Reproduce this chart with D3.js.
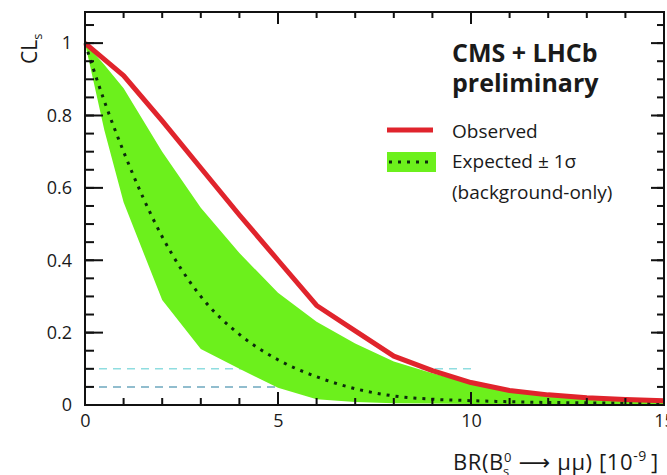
<!DOCTYPE html>
<html>
<head>
<meta charset="utf-8">
<script src="https://cdn.jsdelivr.net/npm/d3@7"></script>
<style>
  body { margin: 0; background: #fff; }
  svg text { font-family: "Open Sans", "DejaVu Sans", sans-serif; fill: #1a1a1a; }
</style>
</head>
<body>
<script>
// CLs scan vs BR(Bs -> mumu)
const brValues  = [0, 0.5, 1, 2, 3, 4, 5, 6, 7, 8, 9, 10, 11, 12, 13, 14, 15];
const observed  = [1.0, 0.955, 0.91, 0.785, 0.655, 0.525, 0.40, 0.275, 0.205, 0.135, 0.095, 0.062, 0.04, 0.028, 0.02, 0.015, 0.012];
const expected  = [1.0, 0.84, 0.70, 0.465, 0.30, 0.195, 0.125, 0.078, 0.045, 0.025, 0.016, 0.012, 0.009, 0.007, 0.006, 0.005, 0.004];
const bandHigh  = [1.0, 0.94, 0.875, 0.70, 0.545, 0.42, 0.31, 0.23, 0.17, 0.12, 0.088, 0.06, 0.036, 0.026, 0.02, 0.016, 0.013];
const bandLow   = [1.0, 0.76, 0.56, 0.29, 0.155, 0.10, 0.048, 0.016, 0.008, 0.005, 0.004, 0.003, 0.003, 0.002, 0.002, 0.002, 0.002];
const clsLevels = [0.1, 0.05];
const xTicks = [0, 5, 10, 15];
const yTicks = [0, 0.2, 0.4, 0.6, 0.8, 1];

const width = 667, height = 475;
const plotL = 85, plotR = 664, plotT = 12, plotB = 405;

const svg = d3.select("body").append("svg")
    .attr("width", width).attr("height", height);

const x = d3.scaleLinear().domain([0, 15]).range([plotL, plotR]);
const y = d3.scaleLinear().domain([0, 1.086]).range([plotB, plotT]);

const rows = brValues.map((b, i) => ({
    b, obs: observed[i], exp: expected[i], hi: bandHigh[i], lo: bandLow[i]
}));

// dashed reference levels
svg.selectAll(".level")
    .data(clsLevels)
    .enter().append("line")
    .attr("class", "level")
    .attr("x1", x(0)).attr("x2", x(10))
    .attr("y1", d => y(d)).attr("y2", d => y(d))
    .attr("stroke", (d, i) => i === 0 ? "#8fdde0" : "#6ea8bf")
    .attr("stroke-width", 1.5)
    .attr("stroke-dasharray", "8,6");

// +-1 sigma band
svg.append("path")
    .datum(rows)
    .attr("fill", "#6cf01c")
    .attr("d", d3.area()
        .x(d => x(d.b))
        .y0(d => y(d.lo))
        .y1(d => y(d.hi)));

// expected
svg.append("path")
    .datum(rows)
    .attr("fill", "none")
    .attr("stroke", "#0c2a0c")
    .attr("stroke-width", 3)
    .attr("stroke-dasharray", "3,6")
    .attr("d", d3.line().curve(d3.curveMonotoneX).x(d => x(d.b)).y(d => y(d.exp)));

// observed
svg.append("path")
    .datum(rows)
    .attr("fill", "none")
    .attr("stroke", "#e0242c")
    .attr("stroke-width", 5)
    .attr("stroke-linejoin", "round")
    .attr("d", d3.line().x(d => x(d.b)).y(d => y(d.obs)));

// frame
svg.append("rect")
    .attr("x", plotL).attr("y", plotT)
    .attr("width", plotR - plotL).attr("height", plotB - plotT)
    .attr("fill", "none").attr("stroke", "#111").attr("stroke-width", 2);

// inward tick marks as small filled rects, placed with the scales
const minorX = d3.range(0, 16, 1);
const minorY = d3.range(0, 1.0501, 0.05);

function xMarks(vals, y0, len) {
    svg.append("g").selectAll("rect")
        .data(vals).enter().append("rect")
        .attr("x", d => x(d) - 1).attr("width", 2)
        .attr("y", len < 0 ? y0 + len : y0).attr("height", Math.abs(len))
        .attr("fill", "#111");
}
function yMarks(vals, x0, len) {
    svg.append("g").selectAll("rect")
        .data(vals).enter().append("rect")
        .attr("y", d => y(d) - 1).attr("height", 2)
        .attr("x", len < 0 ? x0 + len : x0).attr("width", Math.abs(len))
        .attr("fill", "#111");
}
xMarks(minorX, plotB, -7);
xMarks(xTicks, plotB, -13);
xMarks(minorX, plotT, 6);
xMarks(xTicks, plotT, 12);
yMarks(minorY, plotL, 9);
yMarks(yTicks, plotL, 18);
yMarks(minorY, plotR, -7);
yMarks(yTicks, plotR, -13);

// tick labels from d3 axes
function styleAxis(g) {
    g.select(".domain").remove();
    g.selectAll(".tick line").remove();
    g.selectAll(".tick text").style("font-size", "18px");
}
svg.append("g").attr("transform", `translate(0,${plotB})`)
    .call(d3.axisBottom(x).tickValues(xTicks).tickFormat(d3.format("d")).tickSize(0).tickPadding(9))
    .call(styleAxis);
svg.append("g").attr("transform", `translate(${plotL},0)`)
    .call(d3.axisLeft(y).tickValues(yTicks).tickFormat(d3.format("~g")).tickSize(0).tickPadding(13))
    .call(styleAxis);

// y title
const yt = svg.append("text")
    .attr("transform", "translate(37,64) rotate(-90)")
    .style("font-size", "21px");
yt.append("tspan").text("CL");
yt.append("tspan").attr("dy", 5).style("font-size", "13px").text("s");

// x title
const xt = svg.append("text")
    .attr("x", 453).attr("y", 470)
    .style("font-size", "22px")
    .style("letter-spacing", "0.6px");
xt.append("tspan").text("BR(B");
xt.append("tspan").attr("dy", -8).style("font-size", "13px").text("0");
xt.append("tspan").attr("dx", -9).attr("dy", 14).style("font-size", "13px").text("s");
xt.append("tspan").attr("dy", -6).attr("dx", 9).text("\u27F6 \u03BC\u03BC) [10");
xt.append("tspan").attr("dy", -9).style("font-size", "14px").text("-9");
xt.append("tspan").attr("dy", 9).attr("dx", 4).text("]");

// header + legend
svg.append("text").attr("x", 452).attr("y", 62)
    .style("font-size", "25px").style("font-weight", "bold").text("CMS + LHCb");
svg.append("text").attr("x", 452).attr("y", 92)
    .style("font-size", "25px").style("font-weight", "bold").text("preliminary");

svg.append("line")
    .attr("x1", 387).attr("x2", 433).attr("y1", 130).attr("y2", 130)
    .attr("stroke", "#e0242c").attr("stroke-width", 5);
svg.append("text").attr("x", 452).attr("y", 138)
    .style("font-size", "19px").text("Observed");

svg.append("rect")
    .attr("x", 387).attr("y", 152).attr("width", 49).attr("height", 20)
    .attr("fill", "#6cf01c");
svg.append("line")
    .attr("x1", 389).attr("x2", 434).attr("y1", 162).attr("y2", 162)
    .attr("stroke", "#0c2a0c").attr("stroke-width", 3).attr("stroke-dasharray", "3,6");
svg.append("text").attr("x", 452).attr("y", 168)
    .style("font-size", "19px").text("Expected \u00B1 1\u03C3");
svg.append("text").attr("x", 452).attr("y", 199)
    .style("font-size", "19px").text("(background-only)");
</script>
</body>
</html>
